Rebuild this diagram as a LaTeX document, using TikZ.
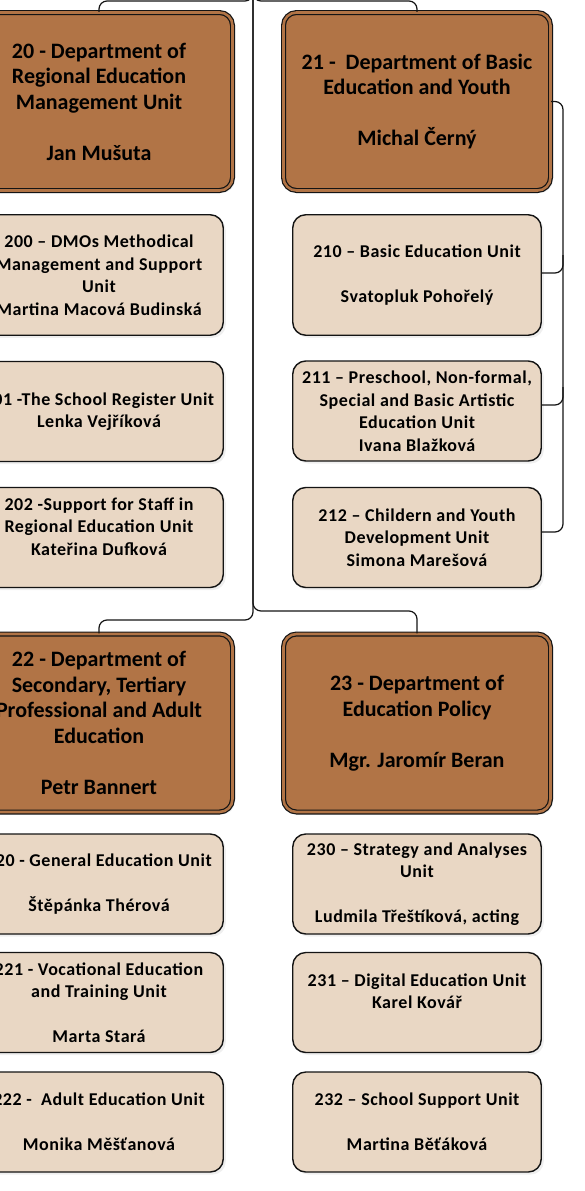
\documentclass[tikz,border=0pt]{standalone}
\usepackage{fontspec}
\setmainfont{Carlito}
\usetikzlibrary{shadows}
\definecolor{deptbrown}{RGB}{177,116,70}
\definecolor{unitbeige}{RGB}{233,215,196}
\definecolor{edge}{RGB}{20,20,20}
\begin{document}
\begin{tikzpicture}[x=1pt,y=-1pt,
  dept/.style={draw=edge, line width=1.2pt, double=deptbrown, double distance=2.6pt,
    fill=deptbrown, rounded corners=13pt, minimum width=267pt, minimum height=178pt,
    inner sep=0pt, align=center, font=\bfseries\fontsize{22}{25.5}\selectfont,
    drop shadow={opacity=0.12,shadow xshift=2.5pt,shadow yshift=-2.5pt}},
  unit/.style={draw=edge, line width=1.4pt, fill=unitbeige, rounded corners=13pt,
    minimum width=248.5pt, minimum height=100pt, inner sep=0pt, align=center,
    font=\bfseries\fontsize{18}{22.5}\selectfont\addfontfeature{LetterSpace=3},
    drop shadow={opacity=0.12,shadow xshift=2.5pt,shadow yshift=-2.5pt}},
  tall/.style={minimum height=120.5pt},
  conn/.style={draw=edge, line width=1.2pt, rounded corners=8pt}]
\useasboundingbox (0,0) rectangle (585,1191);
\fill[white] (0,0) rectangle (585,1191);
\coordinate (top) at (253,-40);

% departments
\node[dept] (d20) at (99,101.5) {20 - Department of\\Regional Education\\Management Unit\\~\\Jan Mušuta};
\node[dept] (d21) at (417,101.5) {21 -\ \ Department of Basic\\Education and Youth\\~\\Michal Černý};
\node[dept] (d22) at (99,723) {22 - Department of\\Secondary, Tertiary\\Professional and Adult\\Education\\~\\Petr Bannert};
\node[dept] (d23) at (417,723) {23 - Department of\\Education Policy\\~\\Mgr. Jaromír Beran};

% units of 20
\node[unit,tall] (u200) at (99,275) {200 – DMOs Methodical\\Management and Support\\Unit\\Martina Macová Budinská};
\node[unit] (u201) at (99,411.5) {201 -The School Register Unit\\Lenka Vejříková};
\node[unit] (u202) at (99,537.5) {202 -Support for Staff in\\Regional Education Unit\\Kateřina Dufková\\~};

% units of 21
\node[unit,tall] (u210) at (417,275) {210 – Basic Education Unit\\~\\Svatopluk Pohořelý};
\node[unit] (u211) at (417,411) {211 – Preschool, Non-formal,\\Special and Basic Artistic\\Education Unit\\Ivana Blažková};
\node[unit] (u212) at (417,537.5) {212 – Childern and Youth\\Development Unit\\Simona Marešová};

% units of 22
\node[unit] (u220) at (99,884) {220 - General Education Unit\\~\\Štěpánka Thérová};
\node[unit] (u221) at (99,1002.5) {221 - Vocational Education\\and Training Unit\\~\\Marta Stará};
\node[unit] (u222) at (99,1122) {222 -\ \ Adult Education Unit\\~\\Monika Měšťanová};

% units of 23
\node[unit] (u230) at (417,884) {230 – Strategy and Analyses\\Unit\\~\\Ludmila Třeštíková, acting};
\node[unit] (u231) at (417,1002.5) {231 – Digital Education Unit\\Karel Kovář\\~};
\node[unit] (u232) at (417,1122) {232 – School Support Unit\\~\\Martina Běťáková};

% trunk connectors
\draw[conn] (top) -- (253,1) -| (d20.north);
\draw[conn] (top) -- (253,1) -| (d21.north);
\draw[conn] (top) -- (253,620) -| (d22.north);
\draw[conn] (top) -- (253,611) -| (d23.north);

% bracket of 21
\draw[conn] (d21.east) -- (563,101.5) -- (563,532) -- (u212.east |- 0,532);
\draw[conn] (563,255) -- (563,273) -- (u210.east |- 0,273);
\draw[conn] (563,387) -- (563,405) -- (u211.east |- 0,405);
\end{tikzpicture}
\end{document}
